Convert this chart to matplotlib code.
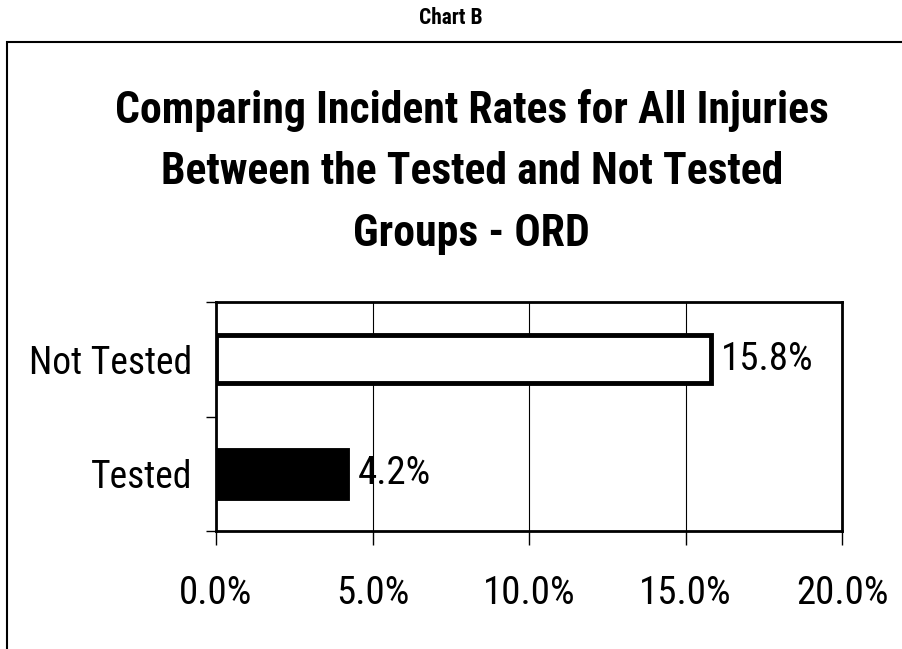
import matplotlib.pyplot as plt
from matplotlib.patches import Rectangle
from matplotlib.ticker import FuncFormatter

plt.rcParams['font.family'] = ['Roboto Condensed', 'Liberation Sans', 'DejaVu Sans']

# data
groups = ['Tested', 'Not Tested']
rates = [4.2, 15.8]
bar_colors = ['black', 'white']
x_ticks = [0, 5, 10, 15, 20]

fig = plt.figure(figsize=(9.02, 6.49), dpi=100)
ax = fig.add_axes([216 / 902, 1 - 531 / 649, (842 - 216) / 902, (531 - 302) / 649])

# outer frame of the chart area
fig.patches.append(Rectangle((7 / 902, -0.1), 1.2, 1 - 42 / 649 + 0.1,
                             transform=fig.transFigure, fill=False,
                             edgecolor='black', linewidth=1.5))

fig.text(0.5, 1 - 18 / 649, 'Chart B', ha='center', va='center',
         fontsize=15.5, fontweight='bold')

fig.text(0.523, 1 - 172 / 649,
         'Comparing Incident Rates for All Injuries\nBetween the Tested and Not Tested\nGroups - ORD',
         ha='center', va='center', fontsize=31.5, fontweight='bold', linespacing=1.59)

bars = ax.barh(range(len(groups)), rates, height=0.42, color=bar_colors,
               edgecolor='black', linewidth=3.5, zorder=3)
for b, v in zip(bars, rates):
    ax.text(v + 0.32, b.get_y() + b.get_height() / 2, f'{v:.1f}%',
            ha='left', va='center', fontsize=28, zorder=4)

ax.set_xlim(0, 20)
ax.set_ylim(-0.5, 1.5)
ax.set_xticks(x_ticks)
ax.xaxis.set_major_formatter(FuncFormatter(lambda v, p: f'{v:.1f}%'))
ax.set_yticks(range(len(groups)))
ax.set_yticklabels(groups)
ax.set_yticks([-0.5, 0.5, 1.5], minor=True)
ax.tick_params(axis='y', which='major', length=0, pad=17, labelsize=27)
ax.tick_params(axis='y', which='minor', length=7, width=1, direction='out')
ax.tick_params(axis='x', length=10, width=1, direction='out', pad=22, labelsize=28)
ax.grid(axis='x', color='black', linewidth=0.8, zorder=0)

for s in ax.spines.values():
    s.set_linewidth(2)
    s.set_zorder(5)

fig.savefig('out.png', dpi=100)
